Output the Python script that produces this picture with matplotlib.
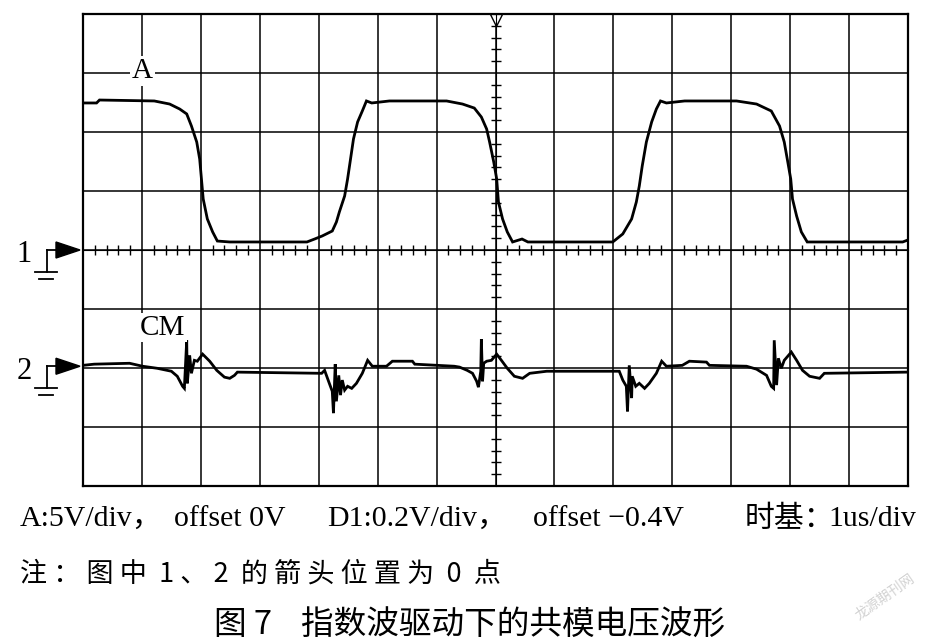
import matplotlib
matplotlib.use("Agg")
import matplotlib.pyplot as plt
from matplotlib.patches import Polygon
from matplotlib.lines import Line2D
from matplotlib.ticker import MultipleLocator
import matplotlib.transforms as mtransforms

# scope settings
A_VOLTS_PER_DIV = 5.0      # channel A, V/div
CM_MV_PER_DIV = 200.0      # channel D1, mV/div
CH1_ZERO_DIV = 0.0         # arrow "1" position
CH2_ZERO_DIV = -1.97       # arrow "2" position

# channel A: drive voltage (time in us, value in V)
a_time = [-7.00, -6.77, -6.72, -5.79, -5.70, -5.53, -5.36, -5.24, -5.16, -5.07,
          -5.02, -4.99, -4.96, -4.89, -4.80, -4.72, -4.51, -3.33, -3.20, -3.07,
          -2.94, -2.77, -2.70, -2.65, -2.56, -2.51, -2.46, -2.41, -2.34, -2.26,
          -2.19, -2.10, -1.80, -0.83, -0.56, -0.36, -0.24, -0.15, -0.10, -0.03,
          0.02, 0.05, 0.12, 0.20, 0.29, 0.45, 0.55, 1.99, 2.16, 2.31,
          2.39, 2.44, 2.49, 2.56, 2.65, 2.73, 2.80, 2.90, 3.21, 4.09,
          4.43, 4.68, 4.82, 4.90, 4.96, 5.01, 5.04, 5.11, 5.19, 5.29,
          5.55, 6.91, 7.00]
a_volts = [12.46, 12.46, 12.71, 12.63, 12.54, 12.37, 11.95, 11.53, 10.51, 9.15,
           7.71, 6.02, 4.32, 2.63, 1.53, 0.76, 0.68, 0.68, 0.68, 0.93,
           1.19, 1.61, 2.37, 3.22, 4.58, 6.02, 7.71, 9.41, 10.85, 11.78,
           12.63, 12.46, 12.63, 12.63, 12.37, 12.03, 11.27, 10.25, 9.15, 7.46,
           6.02, 4.07, 2.63, 1.53, 0.68, 0.93, 0.68, 0.68, 1.36, 2.63,
           4.07, 5.42, 7.12, 9.15, 10.85, 11.95, 12.63, 12.46, 12.63, 12.63,
           12.37, 11.78, 10.51, 9.15, 7.46, 6.02, 4.32, 2.88, 1.53, 0.68,
           0.68, 0.68, 0.85]

# channel D1: common-mode voltage (time in us, value in mV)
cm_time = [-7.00, -6.81, -6.21, -5.99, -5.74, -5.50, -5.40, -5.31, -5.28, -5.24,
           -5.23, -5.19, -5.16, -5.11, -5.06, -4.97, -4.85, -4.73, -4.60, -4.51,
           -4.43, -4.38, -2.95, -2.90, -2.82, -2.77, -2.75, -2.72, -2.70, -2.66,
           -2.63, -2.60, -2.56, -2.51, -2.44, -2.36, -2.26, -2.17, -2.09, -1.85,
           -1.75, -1.41, -1.37, -0.70, -0.61, -0.48, -0.39, -0.32, -0.29, -0.25,
           -0.24, -0.22, -0.20, -0.15, -0.07, 0.02, 0.10, 0.20, 0.32, 0.46,
           0.58, 0.87, 2.10, 2.16, 2.22, 2.24, 2.27, 2.31, 2.32, 2.38,
           2.44, 2.53, 2.61, 2.73, 2.82, 2.90, 3.17, 3.29, 3.58, 3.63,
           4.26, 4.43, 4.60, 4.68, 4.72, 4.73, 4.77, 4.80, 4.85, 4.90,
           5.02, 5.11, 5.21, 5.33, 5.50, 5.58, 6.98]
cm_mv = [3, 7, 10, 0, -7, -17, -34, -68, -75, 88,
         -58, 37, -24, 20, 17, 41, 17, -14, -37, -41,
         -31, -20, -24, -14, -58, -85, -159, 7, -119, -31,
         -98, -47, -81, -68, -75, -58, -24, 20, 0, 0,
         17, 17, 7, 0, -3, -14, -24, -51, -71, -17,
         92, -51, 10, 17, 20, 41, 20, -7, -34, -41,
         -24, -17, -17, -47, -68, -153, 3, -108, -34, -68,
         -58, -75, -58, -24, 17, 0, 3, 17, 14, 3,
         0, -10, -31, -68, -75, 88, -64, 27, -7, 20,
         48, 20, -14, -34, -41, -24, -20]

# settings line under the screen, split into the pieces the reference spaces out
scale_parts = ["A:5V/div，", "offset 0V", "D1:0.2V/div，", "offset −0.4V", "时基："]
scale_part_x = [20, 174, 327, 533, 745]   # left edge of each piece, px
TIMEBASE = "1us/div"                       # right-aligned at the screen edge
NOTE = "注 ： 图 中  1 、 2  的 箭 头 位 置 为  0  点"
CAPTION = "图 7    指数波驱动下的共模电压波形"

FONT = ["Liberation Serif", "Noto Sans CJK SC"]
CJK = ["Noto Sans CJK SC", "Liberation Serif"]


def draw_channel_marker(ax, y_div, label):
    # arrow + ground symbol left of the screen (x in pixels from the axes left edge)
    px = 1.0 / 825.0
    trans = mtransforms.blended_transform_factory(ax.transAxes, ax.transData)
    tri = Polygon([(-27 * px, y_div + 8 / 59), (-3 * px, y_div), (-27 * px, y_div - 8 / 59)],
                  closed=True, color="black", transform=trans, clip_on=False)
    ax.add_patch(tri)
    gx = -36 * px
    line_kw = dict(color="black", lw=1.3, transform=trans, clip_on=False)
    ax.add_line(Line2D([gx, -27 * px], [y_div, y_div], **line_kw))
    ax.add_line(Line2D([gx, gx], [y_div, y_div - 22 / 59], **line_kw))
    ax.add_line(Line2D([-48 * px, -26 * px], [y_div - 22 / 59] * 2, **line_kw))
    ax.add_line(Line2D([-44 * px, -30 * px], [y_div - 29 / 59] * 2, **line_kw))
    ax.text(-59 * px, y_div - 5 / 59, label, transform=trans, ha="center", va="center",
            fontsize=22, family=FONT, clip_on=False)


fig = plt.figure(figsize=(9.30, 6.43), dpi=100)
fig.patch.set_facecolor("white")

# main screen: 14 x 8 divisions
ax = fig.add_axes([83 / 930, 1 - 486 / 643, 825 / 930, 472 / 643])
ax.set_xlim(-7, 7)
ax.set_ylim(-4, 4)
ax.xaxis.set_major_locator(MultipleLocator(1))
ax.yaxis.set_major_locator(MultipleLocator(1))
ax.tick_params(length=0, labelbottom=False, labelleft=False)
ax.grid(True, color="black", lw=1.1)
for spine in ax.spines.values():
    spine.set_linewidth(1.6)

# centre cross with fine graduations
cx = fig.add_axes(ax.get_position(), facecolor="none")
cx.set_xlim(-7, 7)
cx.set_ylim(-4, 4)
for side in ("top", "right"):
    cx.spines[side].set_visible(False)
cx.spines["bottom"].set_position(("data", 0))
cx.spines["left"].set_position(("data", 0))
cx.spines["bottom"].set_linewidth(0.8)
cx.spines["left"].set_linewidth(0.8)
cx.xaxis.set_major_locator(MultipleLocator(1))
cx.xaxis.set_minor_locator(MultipleLocator(0.2))
cx.yaxis.set_major_locator(MultipleLocator(1))
cx.yaxis.set_minor_locator(MultipleLocator(0.2))
cx.tick_params(which="both", direction="inout", labelbottom=False, labelleft=False, width=1.0)
cx.tick_params(which="minor", length=7)
cx.tick_params(which="major", length=0)
cx.set_zorder(ax.get_zorder() + 0.5)

a_div = [v / A_VOLTS_PER_DIV + CH1_ZERO_DIV for v in a_volts]
cm_div = [v / CM_MV_PER_DIV + CH2_ZERO_DIV for v in cm_mv]
cx.plot(a_time, a_div, color="black", lw=2.0, solid_joinstyle="miter")
cx.plot(cm_time, cm_div, color="black", lw=2.0, solid_joinstyle="miter")

# trigger marker at the top
cx.plot([0], [3.9], marker="v", ms=8, mfc="white", mec="black", mew=1.0, clip_on=False)

cx.text(-5.99, 3.04, "A", ha="center", va="center", fontsize=21, family=FONT,
        bbox=dict(facecolor="white", edgecolor="none", pad=1.5))
cx.text(-5.65, -1.32, "CM", ha="center", va="center", fontsize=21, family=FONT,
        bbox=dict(facecolor="white", edgecolor="none", pad=1.0))

draw_channel_marker(ax, CH1_ZERO_DIV, "1")
draw_channel_marker(ax, CH2_ZERO_DIV, "2")

for part, x0 in zip(scale_parts, scale_part_x):
    fig.text(x0 / 930, 1 - 519 / 643, part, ha="left", va="center", fontsize=21.5, family=FONT)
fig.text(916 / 930, 1 - 519 / 643, TIMEBASE, ha="right", va="center", fontsize=21.5, family=FONT)
fig.text(20 / 930, 1 - 574 / 643, NOTE, ha="left", va="center", fontsize=19.5, family=CJK)
fig.text(470 / 930, 1 - 635 / 643, CAPTION, ha="center", va="baseline", fontsize=23.5, family=CJK)
fig.text(885 / 930, 1 - 597 / 643, "龙源期刊网", ha="center", va="center", fontsize=10,
         rotation=35, color="#d2d2d2", family=CJK)

fig.savefig("out.png", dpi=100, facecolor="white")
